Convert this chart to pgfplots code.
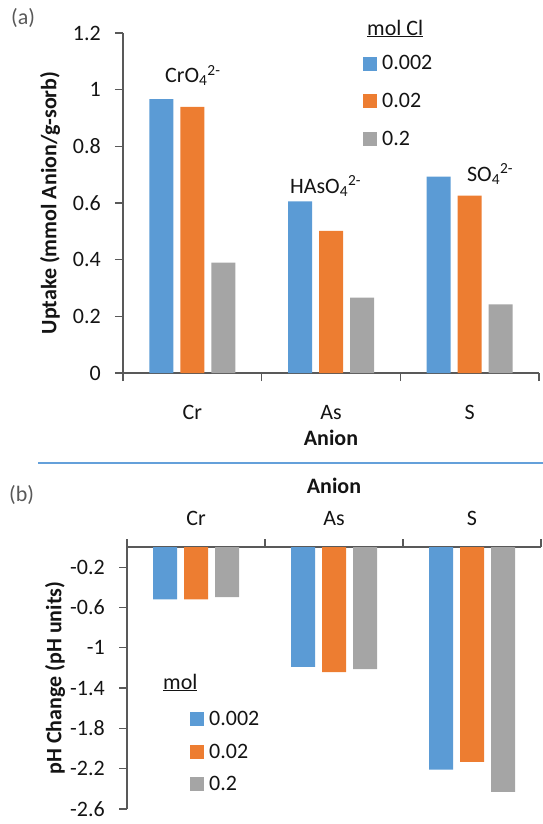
\documentclass[border=0pt]{standalone}
\usepackage{pgfplots}
\pgfplotsset{compat=1.18}
\usepackage{fontspec}
\setmainfont{Carlito}
\definecolor{cblue}{RGB}{91,155,213}
\definecolor{corange}{RGB}{237,125,49}
\definecolor{cgray}{RGB}{165,165,165}
\definecolor{axgray}{RGB}{89,89,89}
\definecolor{sepblue}{RGB}{100,160,218}
\definecolor{txt}{RGB}{20,20,20}
\newcommand\fs{\fontsize{22}{26}\selectfont}
\pgfplotsset{
  mybar/.style={
    scale only axis,
    ybar=7pt, bar width=24pt,
    xmin=0.5, xmax=3.5,
    xtick={0.5,1.5,2.5,3.5}, xticklabels={},
    extra x ticks={1,2,3}, extra x tick labels={Cr,As,S},
    extra x tick style={major tick length=0pt},
    tick align=outside, major tick length=8pt,
    axis line style={axgray, line width=1.2pt},
    tick style={axgray, line width=1.2pt},
    tick label style={font=\fs, text=txt},
    yticklabel style={anchor=east, inner sep=0pt, xshift=-14pt},
    legend image code/.code={\fill[##1] (0pt,-7pt) rectangle (14pt,7pt);},
    legend style={draw=none, fill=none, inner sep=0pt, font=\fs, text=txt,
      nodes={inner sep=0pt}, legend cell align=left,
      /tikz/every odd column/.append style={column sep=5pt}},
    clip=false,
  }
}
\begin{document}
\begin{tikzpicture}
\useasboundingbox (0,0) rectangle (543pt,-824pt);
% (a)
\begin{axis}[mybar,
  at={(123pt,-373pt)}, anchor=south west,
  width=416pt, height=340pt,
  axis x line*=bottom, axis y line*=left,
  ymin=0, ymax=1.2,
  ytick={0,0.2,0.4,0.6,0.8,1,1.2},
  yticklabels={0,0.2,0.4,0.6,0.8,1,1.2},
  xticklabel style={anchor=base, yshift=-46pt},
  xlabel={Anion},
  ylabel={Uptake (mmol Anion/g-sorb)},
  every axis x label/.style={at={(axis description cs:0.5,-0.213)}, anchor=base, font=\fs\bfseries, text=txt},
  every axis y label/.style={at={(axis description cs:-0.1755,0.5)}, rotate=90, anchor=center, font=\fs\bfseries, text=txt},
  legend style={at={(axis description cs:0.577,0.934)}, anchor=north west, row sep=21.9pt},
]
\addplot[fill=cblue, draw=none] coordinates {(1,0.967) (2,0.606) (3,0.693)};
\addplot[fill=corange, draw=none] coordinates {(1,0.939) (2,0.502) (3,0.626)};
\addplot[fill=cgray, draw=none] coordinates {(1,0.390) (2,0.266) (3,0.242)};
\legend{0.002,0.02,0.2}
\node[anchor=base west, font=\fs, text=txt, inner sep=0pt] at (axis description cs:0.5865,0.994) {\underline{mol Cl}};
\node[anchor=base west, font=\fs, text=txt, inner sep=0pt] at (axis cs:0.803,1.024) {CrO\textsubscript{4}\textsuperscript{2-}};
\node[anchor=base west, font=\fs, text=txt, inner sep=0pt] at (axis cs:1.704,0.635) {HAsO\textsubscript{4}\textsuperscript{2-}};
\node[anchor=base west, font=\fs, text=txt, inner sep=0pt] at (axis cs:2.980,0.676) {SO\textsubscript{4}\textsuperscript{2-}};
\end{axis}
% (b)
\begin{axis}[mybar,
  at={(127pt,-547pt)}, anchor=north west,
  width=414pt, height=262pt,
  axis x line*=top, axis y line*=left,
  ymin=-2.6, ymax=0,
  ytick={-2.6,-2.2,-1.8,-1.4,-1,-0.6,-0.2},
  yticklabels={-2.6,-2.2,-1.8,-1.4,-1,-0.6,-0.2},
  xticklabel style={anchor=base, yshift=22pt},
  xlabel={Anion},
  ylabel={pH Change (pH units)},
  every axis x label/.style={at={(axis description cs:0.5,1.203)}, anchor=base, font=\fs\bfseries, text=txt},
  every axis y label/.style={at={(axis description cs:-0.174,0.5)}, rotate=90, anchor=center, font=\fs\bfseries, text=txt},
  legend style={at={(axis description cs:0.1522,0.375)}, anchor=north west, row sep=17pt},
]
\addplot[fill=cblue, draw=none] coordinates {(1,-0.52) (2,-1.19) (3,-2.21)};
\addplot[fill=corange, draw=none] coordinates {(1,-0.52) (2,-1.242) (3,-2.133)};
\addplot[fill=cgray, draw=none] coordinates {(1,-0.497) (2,-1.212) (3,-2.43)};
\legend{0.002,0.02,0.2}
\node[anchor=base west, font=\fs, text=txt, inner sep=0pt] at (axis description cs:0.087,0.458) {\underline{mol}};
\end{axis}
\node[anchor=west, font=\fs, text=axgray, inner sep=0pt] at (11pt,-18pt) {(a)};
\node[anchor=west, font=\fs, text=axgray, inner sep=0pt] at (9pt,-495pt) {(b)};
\draw[sepblue, line width=1.8pt] (38pt,-463pt) -- (543pt,-463pt);
\end{tikzpicture}
\end{document}
